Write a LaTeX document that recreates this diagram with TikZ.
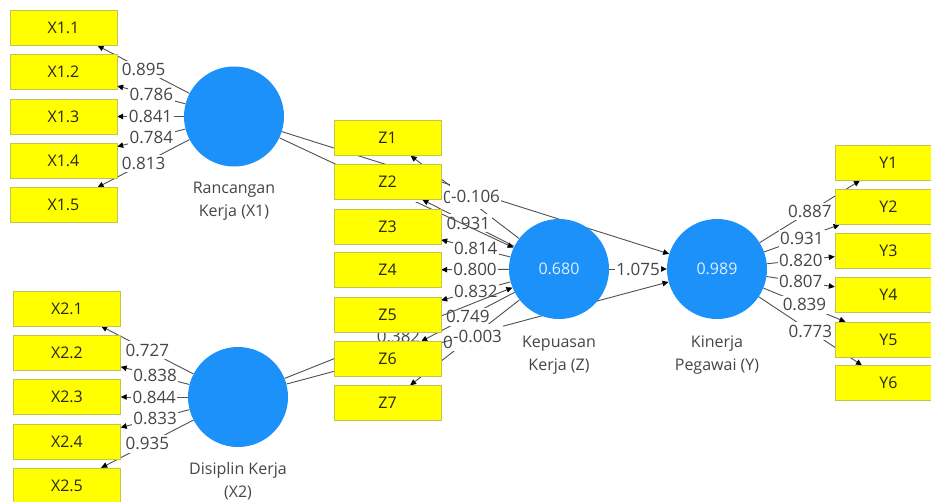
\documentclass[tikz,border=0pt]{standalone}
\usepackage{fontspec}
\setmainfont{Open Sans}
\usetikzlibrary{arrows.meta}
\definecolor{lvblue}{RGB}{28,145,250}
\definecolor{lvtext}{RGB}{225,238,255}
\definecolor{boxyellow}{RGB}{255,255,0}
\definecolor{boxborder}{RGB}{195,195,80}
\definecolor{boxtext}{RGB}{40,40,30}
\definecolor{linegray}{RGB}{80,80,80}
\definecolor{labtext}{RGB}{70,70,70}
\definecolor{nametext}{RGB}{70,70,70}
\newcommand{\fs}{\fontsize{16}{23}\selectfont}
\newcommand{\fl}{\fontsize{17}{20}\selectfont}
\pgfdeclarelayer{bg}
\pgfsetlayers{bg,main}
\begin{document}
\begin{tikzpicture}[x=1pt,y=-1pt,
  ind/.style={rectangle,draw=boxborder,fill=boxyellow,minimum width=107pt,minimum height=35pt,inner sep=0pt,text=boxtext,font=\fs},
  lv/.style={circle,fill=lvblue,minimum size=100pt,inner sep=0pt,text=lvtext,font=\fs},
  lvname/.style={align=center,text=nametext,font=\fs,inner sep=0pt},
  ld/.style={draw=linegray,line width=0.9pt,-{Triangle[length=6pt,width=5.5pt,color=black]}},
  lbl/.style={fill=white,inner xsep=1.5pt,inner ysep=2.5pt,text=labtext,font=\fl},
  tall/.style={inner ysep=6pt}]
\useasboundingbox (0,0) rectangle (931,501);
% latent variables
\node[lv] (X1) at (234,116.5) {};
\node[lv] (X2) at (238,397) {};
\node[lv] (Z) at (559,269) {0.680};
\node[lv] (Y) at (717,269) {0.989};
\node[lvname] (nX1) at (234,201) {Rancangan\\Kerja (X1)};
\node[lvname] (nX2) at (238,481) {Disiplin Kerja\\(X2)};
\node[lvname] (nZ) at (559,355) {Kepuasan\\Kerja (Z)};
\node[lvname] (nY) at (717,355) {Kinerja\\Pegawai (Y)};
% indicators X1
\node[ind] (x11) at (63.5,28) {X1.1};
\node[ind] (x12) at (63.5,72) {X1.2};
\node[ind] (x13) at (63.5,116.5) {X1.3};
\node[ind] (x14) at (63.5,160.5) {X1.4};
\node[ind] (x15) at (63.5,205) {X1.5};
% indicators X2
\node[ind] (x21) at (67,308.5) {X2.1};
\node[ind] (x22) at (67,353) {X2.2};
\node[ind] (x23) at (67,397) {X2.3};
\node[ind] (x24) at (67,441.5) {X2.4};
\node[ind] (x25) at (67,485.5) {X2.5};
% indicators Z
\node[ind] (z1) at (387.5,138) {Z1};
\node[ind] (z2) at (387.5,182) {Z2};
\node[ind] (z3) at (387.5,226.5) {Z3};
\node[ind] (z4) at (387.5,270) {Z4};
\node[ind] (z5) at (387.5,314.5) {Z5};
\node[ind] (z6) at (387.5,359) {Z6};
\node[ind] (z7) at (387.5,403) {Z7};
% indicators Y
\node[ind] (y1) at (888.5,163) {Y1};
\node[ind] (y2) at (888.5,207) {Y2};
\node[ind] (y3) at (888.5,251) {Y3};
\node[ind] (y4) at (888.5,295) {Y4};
\node[ind] (y5) at (888.5,339.5) {Y5};
\node[ind] (y6) at (888.5,383) {Y6};
\begin{pgfonlayer}{bg}
\fill[white] (0,0) rectangle (931,501);
% outer loadings X1
\draw[ld] (X1) -- node[lbl]{0.895} (x11);
\draw[ld] (X1) -- node[lbl]{0.786} (x12);
\draw[ld] (X1) -- node[lbl]{0.841} (x13);
\draw[ld] (X1) -- node[lbl]{0.784} (x14);
\draw[ld] (X1) -- node[lbl]{0.813} (x15);
% outer loadings X2
\draw[ld] (X2) -- node[lbl]{0.727} (x21);
\draw[ld] (X2) -- node[lbl]{0.838} (x22);
\draw[ld] (X2) -- node[lbl]{0.844} (x23);
\draw[ld] (X2) -- node[lbl]{0.833} (x24);
\draw[ld] (X2) -- node[lbl]{0.935} (x25);
% outer loadings Z
\draw[ld] (Z) -- node[lbl]{0.604} (z1);
\draw[ld] (Z) -- node[lbl]{0.931} (z2);
\draw[ld] (Z) -- node[lbl]{0.814} (z3);
\draw[ld] (Z) -- node[lbl]{0.800} (z4);
\draw[ld] (Z) -- node[lbl]{0.832} (z5);
\draw[ld] (Z) -- node[lbl]{0.749} (z6);
\draw[ld] (Z) -- node[lbl]{0.606} (z7);
% outer loadings Y
\draw[ld] (Y) -- node[lbl]{0.887} (y1);
\draw[ld] (Y) -- node[lbl]{0.931} (y2);
\draw[ld] (Y) -- node[lbl]{0.820} (y3);
\draw[ld] (Y) -- node[lbl]{0.807} (y4);
\draw[ld] (Y) -- node[lbl]{0.839} (y5);
\draw[ld] (Y) -- node[lbl]{0.773} (y6);
% structural paths
\draw[ld] (X1) -- node[lbl]{0.344} (Z);
\draw[ld] (X2) -- node[lbl,yshift=-3pt]{0.382} (Z);
\draw[ld] (X1) -- node[lbl,tall,yshift=-4pt]{-0.106} (Y);
\draw[ld] (X2) -- node[lbl,tall,yshift=-3pt]{-0.003} (Y);
\draw[ld] (Z) -- node[lbl]{1.075} (Y);
\end{pgfonlayer}
\end{tikzpicture}
\end{document}
